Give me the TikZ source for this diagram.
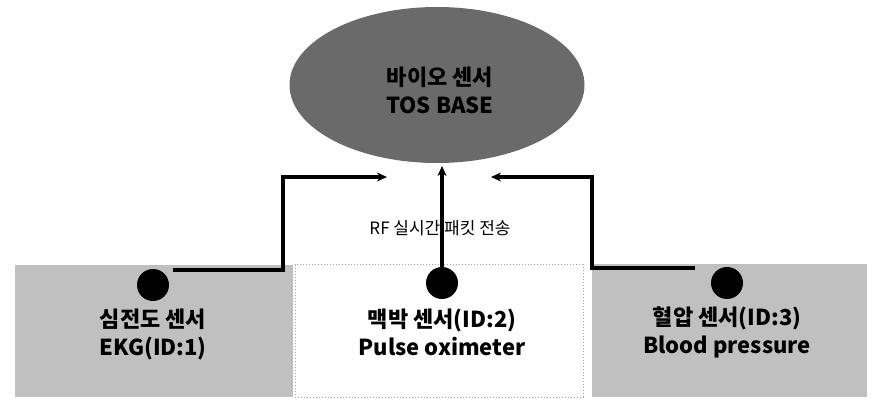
\documentclass[tikz,border=0pt]{standalone}
\usepackage{fontspec}
\setmainfont{Noto Sans CJK KR}
\usetikzlibrary{shapes.geometric,arrows.meta}
\definecolor{darkfill}{HTML}{6A6A6A}
\definecolor{lightfill}{HTML}{C0C0C0}
\begin{document}
\begin{tikzpicture}[x=1pt,y=-1pt,
  basestyle/.style={ellipse,draw=none,fill=darkfill,minimum width=295pt,minimum height=156pt,inner sep=0pt},
  sidebox/.style={rectangle,draw=none,fill=lightfill,inner sep=0pt},
  midbox/.style={rectangle,draw=black!35,dotted,line width=1pt,fill=white,inner sep=0pt},
  sdot/.style={circle,fill=black,draw=none,minimum size=32pt,inner sep=0pt},
  lbl/.style={align=center,font=\fontsize{22}{28}\selectfont\bfseries,inner sep=0pt},
  conn/.style={line width=3.2pt,-{Stealth[length=10pt,width=9pt]}},
  rflbl/.style={font=\fontsize{17}{18}\selectfont,inner sep=1pt}]
\useasboundingbox (0,0) rectangle (871,406);
% base ellipse
\node[basestyle] (base) at (437,85) {};
\node[lbl] (basetext) at (440,90) {바이오 센서\\TOS BASE};
% boxes
\node[sidebox,minimum width=278pt,minimum height=132pt] (ekgbox) at (154,331) {};
\node[midbox,minimum width=288pt,minimum height=132pt] (pulsebox) at (439,331) {};
\node[sidebox,minimum width=275pt,minimum height=133pt] (bpbox) at (729.5,330.5) {};
% dots
\node[sdot] (ekgdot) at (153,285) {};
\node[sdot] (pulsedot) at (442,283) {};
\node[sdot] (bpdot) at (727,283) {};
% labels
\node[lbl] (ekgtext) at (153,334) {심전도 센서\\EKG(ID:1)};
\node[lbl] (pulsetext) at (442,332) {맥박 센서(ID:2)\\Pulse oximeter};
\node[lbl] (bptext) at (727,332) {혈압 센서(ID:3)\\Blood pressure};
\node[rflbl] (rf) at (440,228) {RF 실시간 패킷 전송};
% connector coordinates
\coordinate (ekgout) at (173,270);
\coordinate (ekgbend) at (283,177);
\coordinate (ekgin) at (387,177);
\coordinate (pulsein) at (442,166);
\coordinate (bpout) at (695,268);
\coordinate (bpbend) at (592,177);
\coordinate (bpin) at (491,177);
% connectors
\draw[conn] (ekgout) -| (ekgbend) -- (ekgin);
\draw[conn] (pulsedot.center) -- (pulsein);
\draw[conn] (bpout) -| (bpbend) -- (bpin);
\end{tikzpicture}
\end{document}
